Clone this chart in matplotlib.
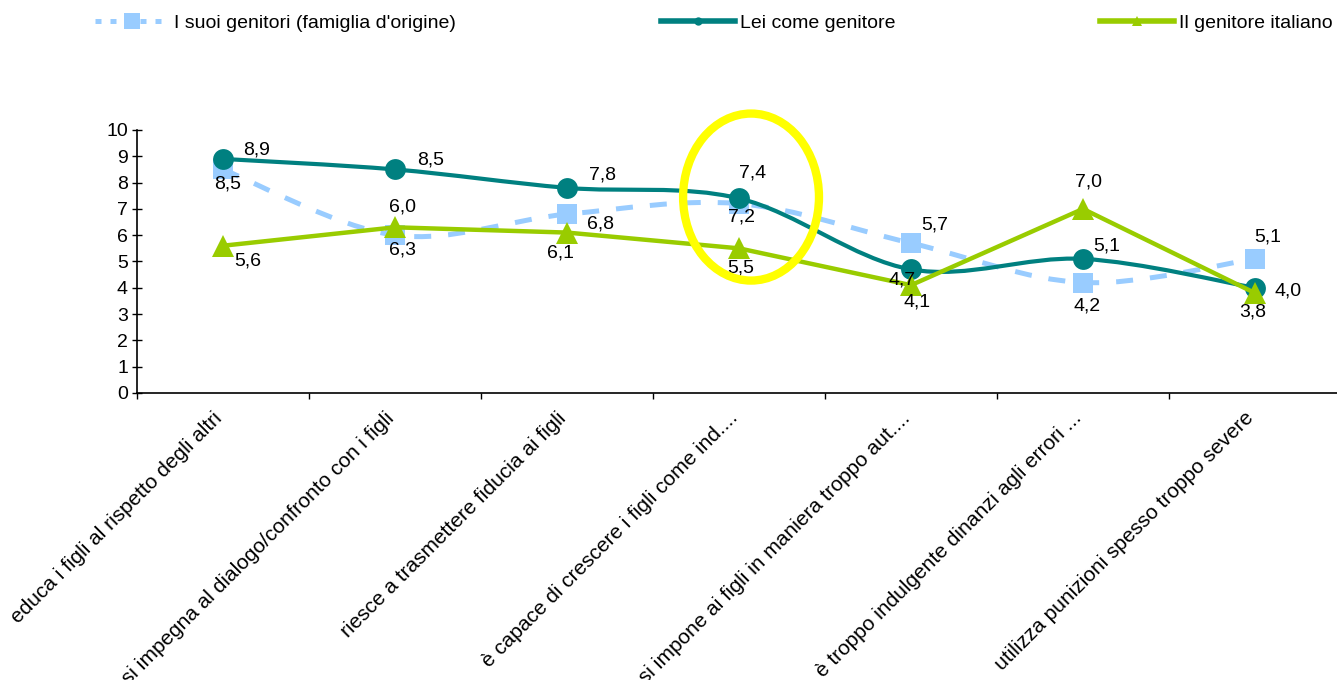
import numpy as np
import matplotlib
matplotlib.use("Agg")
from matplotlib import pyplot as plt
from matplotlib.path import Path
from matplotlib.patches import PathPatch, Ellipse
from matplotlib.lines import Line2D
import matplotlib.transforms as mtransforms

plt.rcParams['font.family'] = ['Liberation Sans', 'DejaVu Sans']

categories = [
    "educa i figli al rispetto degli altri",
    "si impegna al dialogo/confronto con i figli",
    "riesce a trasmettere fiducia ai figli",
    "è capace di crescere i figli come ind....",
    "si impone ai figli in maniera troppo aut....",
    "è troppo indulgente dinanzi agli errori ...",
    "utilizza punizioni spesso troppo severe",
]
series_names = ["I suoi genitori (famiglia d'origine)", "Lei come genitore", "Il genitore italiano"]
genitori_origine = [8.5, 6.0, 6.8, 7.2, 5.7, 4.2, 5.1]
lei_genitore = [8.9, 8.5, 7.8, 7.4, 4.7, 5.1, 4.0]
genitore_italiano = [5.6, 6.3, 6.1, 5.5, 4.1, 7.0, 3.8]
highlight_index = 3

# label offsets in pixels (dx right, dy down), one per point
blue_offsets = [(5, 15), (8, -28), (34, 10), (3, 13), (24, -18), (4, 23), (13, -22)]
teal_offsets = [(34, -9), (36, -9), (35, -13), (14, -25), (-9, 11), (24, -13), (33, 3)]
green_offsets = [(25, 15), (8, 23), (-7, 20), (2, 20), (6, 17), (6, -27), (-2, 19)]

BLUE = "#99CCFF"
TEAL = "#008080"
GREEN = "#99CC00"
FS = 14


def smooth_path(xs, ys):
    # bezier path through the points, like a spreadsheet "smoothed line"
    pts = np.column_stack([xs, ys]).astype(float)
    n = len(pts)
    verts = [pts[0]]
    codes = [Path.MOVETO]
    for i in range(n - 1):
        p0 = pts[max(i - 1, 0)]
        p1 = pts[i]
        p2 = pts[i + 1]
        p3 = pts[min(i + 2, n - 1)]
        verts += [p1 + (p2 - p0) / 6, p2 - (p3 - p1) / 6, p2]
        codes += [Path.CURVE4] * 3
    return Path(verts, codes)


def fmt(v):
    return f"{v:.1f}".replace(".", ",")


fig = plt.figure(figsize=(13.37, 6.8), dpi=100)
ax = fig.add_axes([137 / 1337, 1 - 393 / 680, 1204 / 1337, 263 / 680])
x = np.arange(len(categories))

# light blue dashed, smoothed
ax.add_patch(PathPatch(smooth_path(x, genitori_origine), fill=False, ec=BLUE, lw=3.6,
                       linestyle=(0, (3.4, 3.4)), capstyle='butt', zorder=2))
ax.plot(x, genitori_origine, ls='none', marker='s', ms=14, color=BLUE, mew=0, zorder=2.1)

# teal, smoothed
ax.add_patch(PathPatch(smooth_path(x, lei_genitore), fill=False, ec=TEAL, lw=3, zorder=3))
ax.plot(x, lei_genitore, ls='none', marker='o', ms=15, color=TEAL, mew=0, zorder=3.1)

# green, straight
ax.plot(x, genitore_italiano, color=GREEN, lw=3.2, marker='^', ms=16, mew=0, zorder=4)

for vals, offs in [(genitori_origine, blue_offsets), (lei_genitore, teal_offsets),
                   (genitore_italiano, green_offsets)]:
    for xi, v, (dx, dy) in zip(x, vals, offs):
        ax.annotate(fmt(v), (xi, v), xytext=(dx * 0.72, -dy * 0.72), textcoords='offset points',
                    ha='center', va='center', fontsize=FS, color='black', zorder=5)

# yellow highlight ring
ax.add_patch(Ellipse((highlight_index + 0.07, 7.45), 0.79, 6.35, fill=False, ec='#FFFF00',
                     lw=6, zorder=6, clip_on=False))

ax.set_xlim(-0.5, 6.5)
ax.set_ylim(0, 10)
ax.set_yticks(range(0, 11))
ax.tick_params(axis='y', direction='inout', length=7, width=1, labelsize=FS, pad=3)
ax.set_xticks(x)
ax.set_xticklabels(categories, fontsize=15)
ax.set_xticks(np.arange(-0.5, 7, 1), minor=True)
ax.tick_params(axis='x', which='major', length=0, pad=11)
ax.tick_params(axis='x', which='minor', direction='out', length=4, width=1)
shift = mtransforms.ScaledTranslation(-11 / 100, 0, fig.dpi_scale_trans)
for lab in ax.get_xticklabels():
    lab.set_rotation(45)
    lab.set_ha('right')
    lab.set_va('top')
    lab.set_rotation_mode('anchor')
    lab.set_transform(lab.get_transform() + shift)

for side in ['top', 'right']:
    ax.spines[side].set_visible(False)
for side in ['left', 'bottom']:
    ax.spines[side].set_linewidth(1.2)

handles = [
    Line2D([], [], color=BLUE, lw=3.6, linestyle=(0, (1.2, 1.8)), marker='s', ms=12, mew=0),
    Line2D([], [], color=TEAL, lw=4, marker='o', ms=6, mew=0),
    Line2D([], [], color=GREEN, lw=4, marker='^', ms=7, mew=0),
]
for h, name, xpos in zip(handles, series_names, [95, 661, 1100]):
    fig.legend(handles=[h], labels=[name], loc='center left',
               bbox_to_anchor=(xpos / 1337, 1 - 23 / 680), frameon=False, fontsize=FS,
               handlelength=3.8, handletextpad=0.25, borderpad=0, borderaxespad=0)

fig.savefig("out.png", dpi=100)
